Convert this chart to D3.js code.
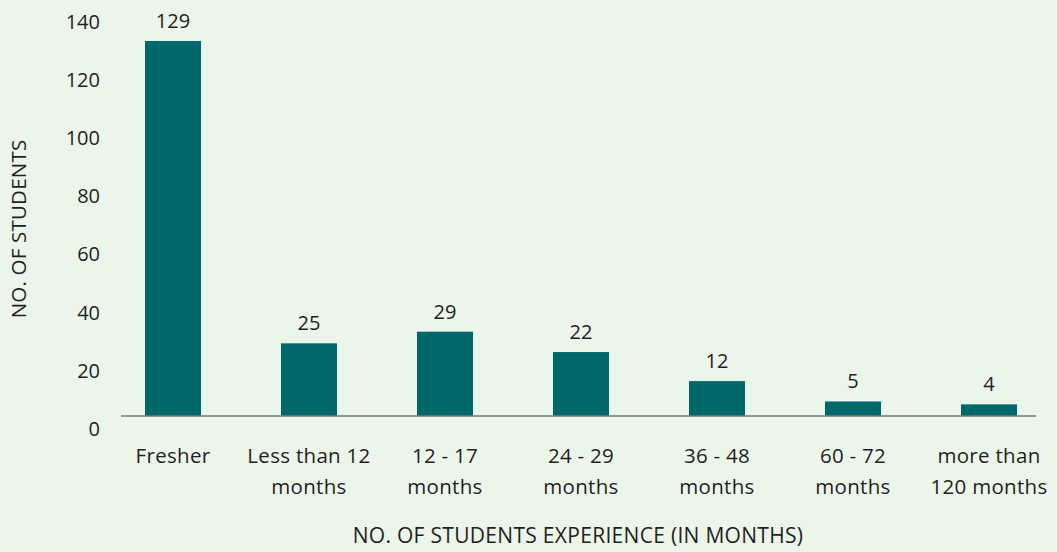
<!DOCTYPE html>
<html>
<head>
<meta charset="utf-8">
<script src="https://cdn.jsdelivr.net/npm/d3@7"></script>
<style>
  body { margin: 0; background: #ebf5ea; }
  svg text { font-family: "Open Sans", sans-serif; fill: #1f1f1f; }
</style>
</head>
<body>
<div id="chart"></div>
<script>
// categories and values
var categories = ["Fresher", "Less than 12 months", "12 - 17 months", "24 - 29 months", "36 - 48 months", "60 - 72 months", "more than 120 months"];
var labelLines = [["Fresher"], ["Less than 12", "months"], ["12 - 17", "months"], ["24 - 29", "months"], ["36 - 48", "months"], ["60 - 72", "months"], ["more than", "120 months"]];
var students = [129, 25, 29, 22, 12, 5, 4];
var yTicks = [0, 20, 40, 60, 80, 100, 120, 140];

var svgWidth = 1057;
var svgHeight = 552;

var svg = d3.select("#chart")
  .append("svg")
  .attr("width", svgWidth)
  .attr("height", svgHeight);

var xScale = d3.scaleBand()
  .domain(categories)
  .range([105, 1057])
  .paddingInner(0.588)
  .paddingOuter(0.294);

var yScale = d3.scaleLinear()
  .domain([0, 140])
  .range([416, 9]);

// bars
svg.selectAll("rect.bar")
  .data(students)
  .enter()
  .append("rect")
  .attr("class", "bar")
  .attr("x", (d, i) => xScale(categories[i]))
  .attr("y", d => yScale(d))
  .attr("width", xScale.bandwidth())
  .attr("height", d => yScale(0) - yScale(d))
  .attr("fill", "#00686a");

// value labels
svg.selectAll("text.value")
  .data(students)
  .enter()
  .append("text")
  .attr("class", "value")
  .attr("x", (d, i) => xScale(categories[i]) + xScale.bandwidth() / 2)
  .attr("y", d => yScale(d) - 13)
  .attr("text-anchor", "middle")
  .attr("font-size", 20)
  .text(d => d);

// baseline
svg.append("line")
  .attr("x1", 121)
  .attr("x2", 1036)
  .attr("y1", yScale(0))
  .attr("y2", yScale(0))
  .attr("stroke", "#777")
  .attr("stroke-width", 1.5);

// y axis labels (sit a bit below their gridline like in the original)
var leftAxis = d3.axisLeft(yScale).tickValues(yTicks).tickSize(0).tickPadding(0);
var yAxis = svg.append("g")
  .attr("transform", "translate(100, 13)")
  .call(leftAxis);
yAxis.select(".domain").remove();
yAxis.selectAll("text")
  .attr("font-size", 20)
  .style("font-family", "'Open Sans', sans-serif")
  .attr("fill", "#1f1f1f");

// x category labels
var xLabels = svg.selectAll("text.cat")
  .data(labelLines)
  .enter()
  .append("text")
  .attr("class", "cat")
  .attr("x", (d, i) => xScale(categories[i]) + xScale.bandwidth() / 2)
  .attr("y", 463)
  .attr("text-anchor", "middle")
  .attr("font-size", 20.5)
  .attr("letter-spacing", 0.3);

xLabels.selectAll("tspan")
  .data(d => d)
  .enter()
  .append("tspan")
  .attr("x", function () { return this.parentNode.getAttribute("x"); })
  .attr("dy", (d, i) => i === 0 ? 0 : 31)
  .text(d => d);

// axis titles
svg.append("text")
  .attr("x", 578)
  .attr("y", 543)
  .attr("text-anchor", "middle")
  .attr("font-size", 21)
  .attr("letter-spacing", 0.3)
  .text("NO. OF STUDENTS EXPERIENCE (IN MONTHS)");

svg.append("text")
  .attr("transform", "rotate(-90)")
  .attr("x", -229)
  .attr("y", 26)
  .attr("text-anchor", "middle")
  .attr("font-size", 20.5)
  .attr("letter-spacing", 0.2)
  .text("NO. OF STUDENTS");
</script>
</body>
</html>
